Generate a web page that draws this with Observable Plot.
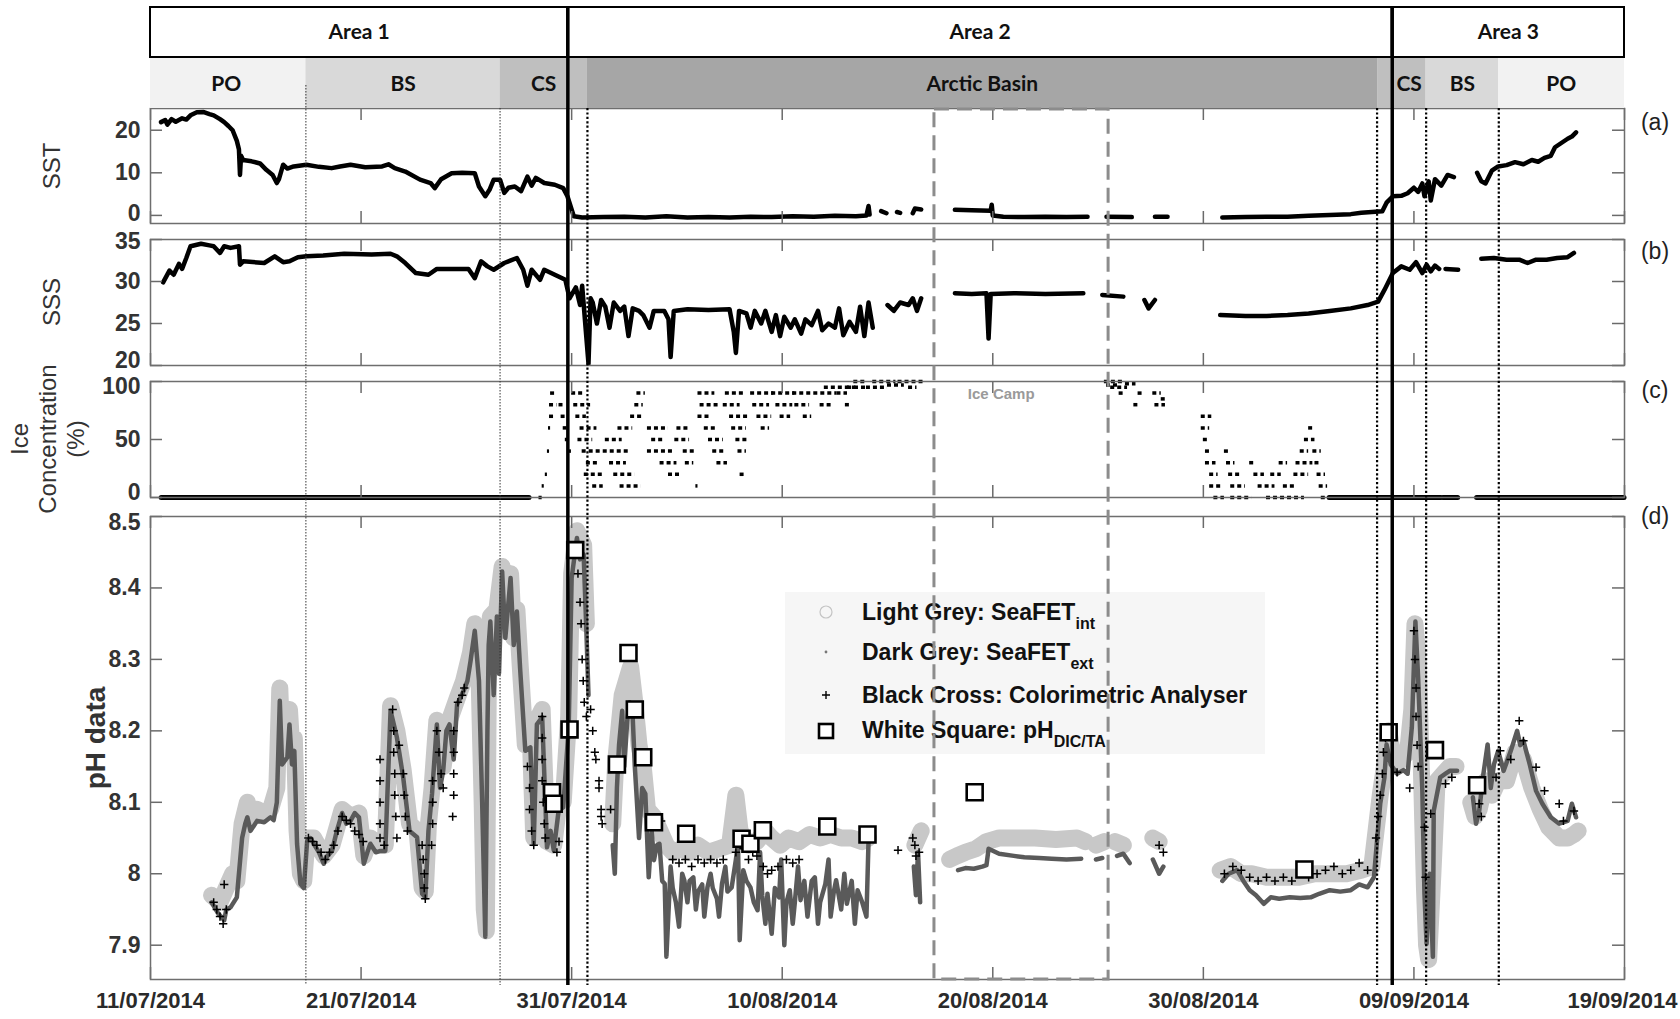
<!DOCTYPE html>
<html><head><meta charset="utf-8">
<script src="https://cdn.jsdelivr.net/npm/d3@7"></script>
<script src="https://cdn.jsdelivr.net/npm/@observablehq/plot@0.6"></script>
<style>
html,body{margin:0;padding:0;background:#fff;}
#fig{position:relative;width:1680px;height:1019px;overflow:hidden;font-family:"Liberation Sans",Arial,sans-serif;background:#fff;}
#fig svg.plotsvg{position:absolute;left:0;overflow:visible;}
.lab{position:absolute;white-space:nowrap;color:#333;line-height:1;}
.rot{transform:translate(-50%,-50%) rotate(-90deg);}
#legend{position:absolute;left:785px;top:592px;width:480px;height:162px;background:#f6f6f6;}
#legend .row{position:absolute;left:77px;font-weight:bold;font-size:23px;color:#111;white-space:nowrap;line-height:1;}
#legend sub{font-size:16px;vertical-align:-9px;line-height:0;}
#legend svg{position:absolute;left:29px;}
</style></head><body><div id="fig"></div>
<script>
// ---------- DATA (day offsets from 11/07/2014) ----------
const xTickDays = [0, 10, 20, 30, 40, 50, 60, 70];
const xTickLabels = ["11/07/2014","21/07/2014","31/07/2014","10/08/2014","20/08/2014","30/08/2014","09/09/2014","19/09/2014"];

const areaNames = ["Area 1", "Area 2", "Area 3"];
const areaStart = [0, 19.82, 58.97];
const areaEnd   = [19.82, 58.97, 70];

const bandNames = ["PO", "BS", "CS", "Arctic Basin", "CS", "BS", "PO"];
const bandStart = [0, 7.38, 16.6, 20.75, 58.3, 60.58, 64.03];
const bandEnd   = [7.38, 16.6, 20.75, 58.3, 60.58, 64.03, 70];
const bandLabelDay = [3.6, 12.0, 18.67, 39.5, 59.77, 62.3, 67.0];
const bandColor = ["#f2f2f2", "#d9d9d9", "#bfbfbf", "#a6a6a6", "#bfbfbf", "#d9d9d9", "#f2f2f2"];

const thinDotDays = [7.38, 16.6];
const boldDotDays = [20.75, 58.25, 60.58, 64.03];
const iceCamp = [37.23, 45.5];

const sstTicks = [0, 10, 20];
const sssTicks = [20, 25, 30, 35];
const iceTicks = [0, 50, 100];
const phTicks = [7.9, 8.0, 8.1, 8.2, 8.3, 8.4, 8.5];
const phTickLabels = ["7.9", "8", "8.1", "8.2", "8.3", "8.4", "8.5"];

const sst = [
[0.5,21.9],[0.7,22.4],[0.8,21.3],[1.0,22.6],[1.2,22.0],[1.5,22.8],[1.7,22.5],[1.9,23.5],[2.2,24.2],[2.5,24.3],[2.8,23.8],[3.0,23.5],[3.3,22.6],[3.5,21.9],[3.7,21.0],[3.9,20],[4.1,17.5],[4.2,15.5],[4.25,9.5],[4.3,14],[4.4,13],[4.8,12.7],[5.2,12.2],[5.5,10.7],[5.8,9.5],[6.0,7.6],[6.1,8.5],[6.3,11.9],[6.5,11.0],[6.8,11.5],[7.4,11.9],[8.0,11.4],[8.6,11.1],[9.0,11.5],[9.5,11.9],[10.2,11.3],[11.0,11.5],[11.3,12.0],[11.6,11.1],[12.1,10.3],[12.8,8.4],[13.3,7.6],[13.5,6.4],[13.8,8.5],[14.3,9.9],[14.8,10.0],[15.4,9.9],[15.6,6.8],[15.9,4.5],[16.1,6.0],[16.3,8.4],[16.6,8.4],[16.8,5.3],[17.0,6.5],[17.3,6.8],[17.6,5.7],[17.9,9.1],[18.1,7.0],[18.3,8.8],[18.7,7.6],[19.2,7.2],[19.6,6.4],[19.8,4.5],[20.1,-0.2],[20.5,-0.5],
[21.5,-0.4],[22.5,-0.3],[23.5,-0.5],[24.5,-0.2],[25.5,-0.5],[26.5,-0.4],[27.5,-0.5],[28.5,-0.3],[29.5,-0.4],[30.5,-0.2],[31.5,-0.3],[32.5,-0.1],[33.5,-0.2],[34.0,0],[34.1,2.2],[34.15,0.2],[34.2,null],
[34.7,1.0],[34.95,0.5],[35.0,null],[35.45,0.8],[35.6,0.6],[35.7,null],[36.2,0.5],[36.3,1.6],[36.6,1.4],[36.7,null],
[38.2,1.3],[39.0,1.2],[39.9,1.1],[39.95,2.5],[40.0,0.0],[40.5,-0.3],[41.5,-0.4],[42.5,-0.3],[43.5,-0.4],[44.5,-0.3],[44.6,null],
[45.4,-0.3],[46.6,-0.4],[46.7,null],[47.7,-0.3],[48.3,-0.3],[48.4,null],
[50.9,-0.5],[52,-0.4],[53,-0.3],[54,-0.3],[55,-0.1],[56,0.1],[57,0.3],[57.5,0.6],[58.0,0.8],[58.5,1.0],[58.7,3.0],[59.0,4.5],[59.4,4.6],[59.7,5.2],[60.0,6.5],[60.2,5.5],[60.4,7.5],[60.5,4.5],[60.7,8.0],[60.8,3.5],[61.0,8.5],[61.3,7.0],[61.6,9.5],[61.9,9.0],[62.0,null],
[63.0,10.0],[63.2,8.0],[63.4,7.5],[63.7,10.5],[64.0,11.5],[64.4,11.8],[64.8,12.5],[65.2,12.0],[65.6,13.0],[65.9,12.6],[66.2,13.5],[66.5,14.0],[66.7,16.0],[67.0,17.0],[67.3,18.0],[67.5,18.5],[67.7,19.5]
];

const sss = [
[0.6,29.9],[0.9,31.3],[1.1,30.8],[1.35,32.1],[1.5,31.5],[1.7,32.8],[1.9,34.2],[2.4,34.5],[2.8,34.3],[3.0,34.2],[3.3,33.4],[3.5,34.2],[3.8,34.0],[4.2,34.2],[4.25,32.0],[4.4,32.4],[5.4,32.2],[5.9,33.0],[6.3,32.3],[6.6,32.4],[7.0,32.9],[7.4,33.0],[8.2,33.1],[9.2,33.3],[10.5,33.2],[11.4,33.3],[11.7,33.0],[12.1,32.2],[12.6,31.0],[13.2,30.8],[13.6,31.5],[14.6,31.5],[15.1,31.5],[15.4,30.4],[15.7,32.4],[16.0,31.8],[16.3,31.4],[16.8,32.2],[17.4,32.8],[17.7,31.4],[17.9,29.5],[18.1,31.4],[18.5,30.2],[18.7,31.4],[19.2,30.8],[19.7,30.2],[19.9,28.0],[20.2,29.3],[20.4,27.2],[20.5,29.5],[20.7,23.3],[20.8,20.2],[20.9,28.0],
[21.0,27.5],[21.2,25.0],[21.4,27.8],[21.6,27.0],[21.8,24.5],[22.0,27.5],[22.3,26.5],[22.5,27.0],[22.7,23.5],[22.9,26.8],[23.2,26.5],[23.4,26.0],[23.7,24.5],[23.9,26.5],[24.4,26.5],[24.6,25.5],[24.7,21.0],[24.85,26.5],[25.5,26.7],[26.5,26.6],[27.5,26.7],[27.7,24.0],[27.8,21.5],[27.95,26.5],[28.3,26.2],[28.5,24.5],[28.7,26.5],[29.0,25.0],[29.2,26.5],[29.5,24.0],[29.7,26.0],[29.9,23.5],[30.1,25.8],[30.4,24.5],[30.6,25.5],[30.9,23.8],[31.1,25.5],[31.4,24.8],[31.7,26.5],[31.9,24.2],[32.2,25.0],[32.5,24.5],[32.7,26.8],[32.9,23.6],[33.2,25.2],[33.5,24.0],[33.7,27.0],[33.9,23.5],[34.1,27.5],[34.3,24.5],[34.5,null],
[35.0,27.2],[35.3,26.5],[35.6,27.5],[36.0,27.2],[36.2,28.0],[36.4,26.5],[36.6,28.0],[36.7,null],
[38.2,28.6],[39.0,28.5],[39.7,28.6],[39.8,23.2],[39.9,28.5],[41.0,28.6],[42.5,28.5],[44.3,28.6],[44.4,null],
[45.2,28.4],[46.2,28.2],[46.3,null],[47.2,27.8],[47.4,26.8],[47.7,27.8],[47.8,null],
[50.8,26.0],[52,25.9],[53,25.9],[54,26.0],[55,26.2],[56,26.5],[57,26.8],[57.8,27.2],[58.3,27.6],[58.6,29],[59.0,31.0],[59.4,31.8],[59.8,31.4],[60.1,32.3],[60.4,31.0],[60.6,32.0],[60.8,31.2],[61.0,31.9],[61.2,31.5],[61.3,null],[61.5,31.5],[62.1,31.4],[62.2,null],
[63.2,32.7],[63.8,32.8],[64.4,32.6],[65.0,32.6],[65.4,32.2],[65.8,32.6],[66.3,32.6],[66.8,32.8],[67.3,32.9],[67.6,33.4]
];

// ice concentration: [start day, end day, level]
const iceZero = [[0.53,18.0,0],[56.0,61.3,0],[61.4,62.1,0],[63.0,70,0]];
const iceDots = [
[18.45,18.6,0],[18.6,18.7,10],[18.75,18.85,20],[18.85,18.95,40],[18.9,19.0,60],[18.95,19.15,70],[18.95,19.3,80],[19.0,19.25,90],
[19.4,19.6,80],[19.5,19.7,70],[19.6,19.8,60],[19.7,19.9,50],[19.8,20.0,40],
[20.0,20.6,90],[20.1,20.9,80],[20.2,20.7,70],[20.4,21.2,60],[20.3,21.0,50],[20.5,21.4,40],[20.7,21.3,30],[20.6,21.5,20],[21.0,21.5,10],
[21.6,22.4,50],[21.5,22.8,40],[21.8,22.6,30],[22.0,23.0,20],[22.3,23.3,10],[22.2,22.9,60],[22.8,23.4,70],[23.0,23.4,80],[23.1,23.5,90],
[23.6,24.6,60],[23.8,24.4,50],[23.6,24.8,40],[24.2,25.0,30],[24.6,25.2,20],[24.9,25.6,50],[25.0,25.6,60],[25.3,25.9,40],[25.4,25.8,30],[25.9,26.0,10],
[26.0,26.8,90],[26.1,27.0,80],[26.0,26.6,70],[26.3,26.9,60],[26.5,27.2,50],[26.7,27.3,40],[26.9,27.4,30],[27.3,28.2,90],[27.2,28.0,80],[27.5,28.4,70],[27.6,28.3,60],[27.8,28.4,50],[27.9,28.3,40],[28.0,28.2,20],
[28.5,29.6,90],[28.6,29.4,80],[28.8,29.5,70],[29.0,29.4,60],[29.5,30.6,90],[29.7,30.5,80],[29.9,30.4,70],[30.5,31.5,90],[30.6,31.3,80],[31.0,31.4,70],
[31.5,32.6,90],[31.8,32.4,80],[32.0,33.5,95],[32.6,33.1,90],[33.1,34.0,95],[33.4,34.0,100],[33.0,33.3,80],
[34.0,35.0,95],[34.3,35.4,100],[35.0,35.8,97],[35.5,36.7,100],[36.0,36.4,95],
[45.3,46.2,100],[45.4,46.0,97],[45.6,46.4,95],[46.0,46.3,90],[46.3,46.8,98],[46.7,47.0,80],[46.9,47.1,90],[47.6,48.0,90],[47.7,48.2,80],[48.0,48.3,85],
[49.9,50.4,70],[49.9,50.3,60],[50.0,50.3,50],[50.1,50.4,40],[50.1,50.6,30],[50.3,50.7,20],[50.3,50.9,10],[50.5,51.0,0],
[51.0,51.3,40],[51.1,51.5,30],[51.2,51.8,20],[51.3,52.0,10],[51.3,52.3,0],
[52.2,52.5,30],[52.4,52.9,20],[52.6,53.4,10],[53.0,54.8,0],[53.2,53.7,20],[53.6,54.0,30],[53.8,54.4,10],[54.3,55.0,20],[54.4,55.2,30],[54.6,55.0,40],[54.8,55.3,50],[55.0,55.3,60],[55.2,55.6,40],[55.3,55.6,30],[55.4,55.8,20],[55.5,55.9,10],[55.6,56.2,0]
];

// pH: SeaFET external (dark grey)
const phExt = [
[2.9,7.96],[3.0,7.955],[3.2,7.945],[3.5,7.935],[3.6,7.95],[3.8,7.953],[4.1,7.967],[4.35,8.05],[4.5,8.07],[4.6,8.079],[4.75,8.06],[5.06,8.074],[5.4,8.072],[5.7,8.079],[5.85,8.075],[6.0,8.10],[6.14,8.242],[6.25,8.153],[6.5,8.163],[6.6,8.209],[6.72,8.153],[6.83,8.172],[6.96,8.042],[7.12,7.986],[7.28,7.98],
[7.44,8.046],[7.6,8.05],[7.75,8.042],[8.0,8.03],[8.23,8.014],[8.4,8.025],[8.62,8.032],[8.85,8.06],[9.1,8.085],[9.3,8.07],[9.5,8.074],[9.7,8.085],[9.9,8.079],[10.13,8.014],[10.3,8.03],[10.44,8.042],[10.7,8.03],[10.92,8.032],[11.15,8.032],[11.4,8.228],[11.7,8.191],[12.0,8.135],[12.3,8.06],[12.66,8.051],[12.9,7.972],[13.05,7.967],[13.2,8.06],[13.37,8.112],[13.6,8.209],[13.75,8.12],[13.9,8.144],[14.05,8.2],[14.2,8.209],[14.4,8.16],[14.56,8.237],[14.87,8.256],[15.05,8.27],[15.2,8.298],[15.4,8.34],[15.6,8.27],[15.75,8.1],[15.9,7.912],[16.0,8.2],[16.06,8.32],[16.14,8.353],[16.3,8.25],[16.45,8.36],[16.55,8.28],[16.7,8.423],[16.85,8.33],[17.0,8.38],[17.1,8.414],[17.25,8.32],[17.4,8.367],[17.56,8.284],[17.8,8.172],[18.04,8.177],[18.2,8.042],[18.35,8.209],[18.6,8.219],[18.83,8.037],[19.0,8.06],[19.15,8.033],[19.38,8.088],[19.6,8.093],[19.86,8.205],[20.0,8.414],[20.25,8.47],[20.4,8.44],[20.57,8.447],[20.7,8.34],[20.8,8.25],[20.85,null],
[21.95,8.04],[22.05,8.0],[22.15,8.12],[22.25,8.18],[22.4,8.228],[22.5,8.15],[22.64,8.214],[22.75,8.24],[22.9,8.219],[23.0,8.15],[23.07,8.116],[23.2,8.05],[23.35,8.12],[23.5,8.112],[23.66,7.995],[23.8,8.06],[23.91,8.019],[24.05,8.04],[24.17,8.042],[24.3,7.99],[24.42,7.986],[24.5,7.884],[24.59,7.94],[24.7,8.01],[24.8,7.98],[24.95,7.96],[25.1,7.926],[25.25,8.0],[25.35,7.991],[25.5,7.96],[25.6,7.99],[25.78,7.995],[25.9,7.95],[26.0,7.975],[26.2,7.985],[26.3,7.94],[26.45,7.981],[26.6,8.0],[26.7,7.98],[26.9,7.965],[27.0,7.94],[27.14,7.986],[27.3,8.01],[27.4,7.975],[27.6,7.981],[27.8,8.02],[27.9,8.042],[27.98,7.907],[28.15,8.005],[28.3,7.99],[28.49,7.981],[28.65,7.96],[28.83,7.949],[28.95,8.03],[29.05,7.97],[29.2,7.93],[29.3,7.972],[29.5,7.916],[29.65,7.98],[29.85,7.967],[29.95,8.02],[30.1,7.9],[30.2,7.96],[30.36,7.977],[30.5,7.93],[30.6,7.96],[30.75,8.01],[30.87,7.963],[31.05,7.99],[31.2,7.94],[31.4,7.99],[31.55,7.995],[31.7,7.93],[31.8,7.96],[32.05,7.986],[32.2,8.02],[32.3,7.94],[32.45,7.975],[32.56,7.991],[32.8,7.95],[32.95,8.0],[33.07,7.958],[33.3,7.99],[33.45,7.93],[33.58,7.977],[33.8,7.96],[34.0,7.94],[34.1,8.047],[34.15,null],
[36.25,8.01],[36.35,7.97],[36.45,8.03],[36.55,7.96],[36.6,null],
[38.35,8.005],[38.7,8.008],[39.1,8.007],[39.5,8.01],[39.7,8.012],[39.8,8.035],[40.3,8.028],[41.0,8.025],[41.5,8.023],[42.2,8.022],[42.8,8.021],[43.5,8.02],[44.2,8.021],[44.3,null],
[44.9,8.02],[45.2,8.022],[45.3,null],[45.9,8.025],[46.2,8.028],[46.5,8.015],[46.6,null],
[47.6,8.02],[47.9,8.0],[48.1,8.01],[48.2,null],
[50.9,7.99],[51.2,8.0],[51.6,8.005],[51.9,7.99],[52.2,7.977],[52.5,7.97],[52.87,7.958],[53.2,7.967],[53.6,7.965],[54.1,7.967],[54.6,7.966],[55.1,7.967],[55.5,7.972],[56.0,7.977],[56.5,7.975],[57.0,7.977],[57.4,7.985],[57.8,7.981],[58.1,7.995],[58.25,8.047],[58.4,8.098],[58.6,8.135],[58.7,8.181],[58.9,8.153],[59.2,8.14],[59.5,8.145],[59.7,8.14],[59.9,8.205],[60.07,8.353],[60.2,8.274],[60.4,8.116],[60.5,7.972],[60.6,7.902],[60.75,8.0],[60.9,7.884],[60.94,8.088],[61.25,8.135],[61.5,8.14],[61.7,8.144],[62.05,8.144],[62.1,null],
[62.8,8.107],[62.95,8.07],[63.1,8.088],[63.3,8.14],[63.5,8.181],[63.65,8.12],[63.8,8.153],[64.0,8.172],[64.26,8.144],[64.6,8.172],[64.9,8.2],[65.05,8.18],[65.2,8.186],[65.5,8.153],[65.8,8.116],[66.1,8.098],[66.5,8.079],[66.9,8.07],[67.3,8.074],[67.5,8.098],[67.7,8.079]
];

// pH: SeaFET internal (light grey)
const phInt = [
[2.9,7.97],[3.3,7.96],[3.6,7.98],[3.9,8.0],[4.1,7.99],[4.35,8.07],[4.6,8.1],[4.75,8.08],[5.06,8.09],[5.4,8.085],[5.7,8.09],[6.0,8.12],[6.14,8.26],[6.25,8.17],[6.5,8.18],[6.6,8.23],[6.72,8.17],[6.83,8.19],[6.96,8.06],[7.12,8.0],[7.28,7.99],
[7.44,8.05],[7.75,8.05],[8.23,8.025],[8.62,8.04],[9.1,8.09],[9.5,8.08],[9.9,8.085],[10.13,8.025],[10.44,8.05],[10.92,8.04],[11.15,8.04],[11.4,8.235],[11.7,8.2],[12.0,8.145],[12.3,8.07],[12.66,8.06],[12.9,7.98],[13.05,7.975],[13.2,8.07],[13.37,8.12],[13.6,8.215],[13.9,8.15],[14.2,8.215],[14.56,8.245],[14.87,8.27],[15.2,8.31],[15.4,8.35],[15.6,8.28],[15.75,8.1],[15.85,7.95],[15.95,7.92],[16.06,8.33],[16.14,8.36],[16.45,8.37],[16.7,8.43],[16.85,8.34],[17.1,8.42],[17.25,8.33],[17.4,8.37],[17.56,8.29],[17.8,8.18],[18.04,8.19],[18.2,8.05],[18.35,8.215],[18.6,8.23],[18.83,8.045],[19.15,8.04],[19.38,8.095],[19.6,8.1],[19.86,8.22],[20.0,8.42],[20.25,8.48],[20.57,8.46],[20.7,8.35],[20.75,null],
[21.95,8.07],[22.1,8.16],[22.4,8.25],[22.6,8.27],[22.8,8.29],[23.0,8.24],[23.2,8.18],[23.4,8.15],[23.6,8.09],[23.9,8.08],[24.2,8.06],[24.5,8.04],[24.8,8.03],[25.2,8.035],[25.6,8.03],[26.0,8.04],[26.5,8.03],[27.0,8.035],[27.5,8.04],[27.8,8.11],[28.0,8.06],[28.4,8.04],[28.8,8.045],[29.2,8.06],[29.5,8.05],[29.9,8.04],[30.3,8.05],[30.8,8.045],[31.3,8.055],[31.8,8.05],[32.3,8.055],[32.8,8.05],[33.3,8.05],[33.8,8.045],[34.1,8.05],[34.15,null],
[36.3,8.04],[36.6,8.06],[36.65,null],
[37.95,8.02],[38.3,8.025],[38.7,8.03],[39.2,8.035],[39.7,8.045],[40.3,8.05],[41.0,8.05],[42.0,8.05],[43.0,8.048],[44.0,8.05],[44.4,8.045],[44.45,null],
[44.9,8.04],[45.3,8.045],[45.5,null],[45.8,8.045],[46.2,8.04],[46.4,null],
[47.6,8.05],[47.9,8.045],[48.0,null],
[50.8,8.005],[51.3,8.01],[51.8,8.0],[52.3,8.0],[53.0,7.995],[53.8,7.995],[54.5,7.995],[55.3,8.0],[56.0,8.0],[56.8,8.0],[57.5,8.005],[58.0,8.01],[58.2,8.06],[58.4,8.11],[58.6,8.15],[58.8,8.2],[59.1,8.15],[59.4,8.16],[59.7,8.17],[59.9,8.23],[60.05,8.35],[60.2,8.3],[60.35,8.15],[60.5,7.98],[60.6,7.9],[60.7,7.88],[60.9,8.0],[61.1,8.13],[61.4,8.14],[61.7,8.15],[62.0,8.15],[62.1,null],
[62.7,8.1],[62.9,8.08],[63.1,8.09],[63.4,8.13],[63.7,8.11],[64.0,8.13],[64.4,8.13],[64.8,8.17],[65.2,8.16],[65.6,8.12],[66.0,8.09],[66.4,8.065],[66.9,8.05],[67.3,8.05],[67.6,8.055],[67.8,8.06]
];

// pH: colorimetric analyser (black cross)
const phColor = [
[3.0,7.96],[3.15,7.95],[3.3,7.94],[3.45,7.93],[3.5,7.985],[3.6,7.95],
[7.5,8.05],[7.7,8.045],[7.9,8.04],[8.1,8.03],[8.3,8.02],[8.5,8.03],[8.7,8.04],[8.9,8.06],[9.1,8.08],[9.3,8.075],[9.5,8.07],[9.7,8.06],[9.9,8.055],[10.1,8.045],
[10.9,8.16],[10.9,8.13],[10.9,8.10],[10.9,8.07],[10.9,8.05],[11.1,8.04],[11.5,8.23],[11.55,8.2],[11.55,8.17],[11.6,8.14],[11.6,8.11],[11.65,8.08],[11.7,8.05],[11.8,8.18],[12.0,8.14],[12.05,8.11],[12.1,8.08],[12.2,8.06],
[12.9,8.04],[12.95,8.02],[13.0,8.0],[13.0,7.98],[13.05,7.965],[13.4,8.13],[13.4,8.1],[13.4,8.07],[13.35,8.04],[13.6,8.2],[13.7,8.17],[13.8,8.14],[13.9,8.12],[14.4,8.2],[14.4,8.17],[14.4,8.14],[14.4,8.11],[14.35,8.08],[14.6,8.24],[14.8,8.25],[14.9,8.26],
[17.9,8.15],[18.0,8.12],[18.0,8.09],[18.1,8.06],[18.2,8.04],[18.6,8.22],[18.6,8.19],[18.6,8.16],[18.6,8.13],[18.65,8.1],[18.7,8.07],[18.75,8.05],[19.3,8.03],[19.4,8.045],
[20.3,8.42],[20.4,8.38],[20.45,8.35],[20.5,8.3],[20.55,8.27],[20.6,8.24],[20.7,8.22],[20.9,8.23],[21.0,8.2],[21.1,8.17],[21.15,8.16],[21.3,8.13],[21.3,8.12],[21.4,8.09],[21.4,8.08],[21.45,8.07],[21.85,8.09],
[24.25,8.074],[24.8,8.02],[25.1,8.015],[25.4,8.02],[25.7,8.01],[26.0,8.02],[26.3,8.015],[26.6,8.02],[26.9,8.015],[27.2,8.02],[27.8,8.03],[28.0,8.04],[28.2,8.035],[28.4,8.02],[28.6,8.03],[28.8,8.025],[29.1,8.01],[29.3,8.0],[29.5,8.005],[29.8,8.01],[30.2,8.02],[30.5,8.015],[30.8,8.02],
[35.5,8.033],[36.2,8.05],[36.3,8.04],[36.35,8.025],[36.5,8.03],
[48.1,8.03],[47.9,8.04],
[51.0,8.0],[51.4,8.01],[51.8,8.005],[52.2,7.995],[52.6,7.99],[53.0,7.995],[53.4,7.99],[53.8,7.995],[54.2,7.99],[54.6,8.0],[55.0,7.995],[55.4,8.0],[55.8,8.005],[56.2,8.01],[56.6,8.0],[57.0,8.005],[57.4,8.015],[57.8,8.005],
[58.2,8.05],[58.3,8.08],[58.4,8.11],[58.5,8.14],[58.55,8.17],[58.65,8.19],[59.2,8.142],[59.8,8.12],[60.0,8.34],[60.05,8.3],[60.1,8.26],[60.1,8.22],[60.15,8.18],[60.2,8.15],[60.5,8.065],[60.55,7.995],[60.8,8.084],[61.5,8.126],[61.8,8.135],
[63.1,8.098],[63.2,8.08],[63.9,8.135],[64.1,8.172],[64.6,8.16],[65.0,8.214],[65.2,8.186],[65.8,8.149],[66.2,8.116],[66.9,8.098],[67.1,8.074],[67.6,8.088]
];

// pH from DIC/TA (white square)
const phDic = [
[19.07,8.114],[19.15,8.098],[19.9,8.202],[20.17,8.453],[22.15,8.153],[22.7,8.309],[23.0,8.23],[23.4,8.163],[23.91,8.072],[25.44,8.056],[28.07,8.049],[28.49,8.042],[29.08,8.061],[32.14,8.066],[34.05,8.055],[39.14,8.114],[54.8,8.006],[58.8,8.198],[61.0,8.173],[63.0,8.124]
];

// ---------- DRAWING ----------
const START = Date.UTC(2014, 6, 11);
const toDate = d => new Date(START + d * 864e5);
const xDomain = [toDate(0), toDate(70)];
const W = 1680, ML = 150, MR = 56;
const fig = document.getElementById("fig");
const baseStyle = {fontFamily: "Liberation Sans, Arial, sans-serif", background: "transparent", overflow: "visible"};

// nudge: pixel offsets (up) for tick labels that would touch the neighbouring panel's labels
function panel(top, bottom, yDomain, yTicks, yLabels, nudge, marks, mb, withX) {
  const mt = 20;
  const h = bottom - top;
  const span = yDomain[1] - yDomain[0];
  const ky = 12 / h * span;
  const kx = 12 / (W - ML - MR) * 70;
  const tickStyle = {stroke: "#6a6a6a", strokeWidth: 1.5};
  const extra = [];
  if (withX) {
    const xl = xTickDays.map((d, i) => ({d, s: xTickLabels[i]}));
    const xStyle = {frameAnchor: "bottom", dy: 28, text: "s", fontSize: 22, fontWeight: "bold", fill: "#2a2a2a"};
    extra.push(Plot.text(xl.slice(0, -1), {x: o => toDate(o.d), ...xStyle}));
    extra.push(Plot.text(xl.slice(-1), {x: o => toDate(o.d), textAnchor: "end", dx: 53, ...xStyle}));
  }
  const svg = Plot.plot({
    width: W, height: h + mt + mb,
    marginLeft: ML, marginRight: MR, marginTop: mt, marginBottom: mb,
    x: {type: "utc", domain: xDomain, axis: null},
    y: {domain: yDomain, axis: null},
    style: baseStyle,
    marks: [
      ...marks,
      Plot.ruleX(xTickDays, {x: d => toDate(d), y1: () => yDomain[0], y2: () => yDomain[0] + ky, ...tickStyle}),
      Plot.ruleX(xTickDays, {x: d => toDate(d), y1: () => yDomain[1], y2: () => yDomain[1] - ky, ...tickStyle}),
      Plot.ruleY(yTicks, {y: d => d, x1: () => toDate(0), x2: () => toDate(kx), ...tickStyle}),
      Plot.ruleY(yTicks, {y: d => d, x1: () => toDate(70), x2: () => toDate(70 - kx), ...tickStyle}),
      Plot.frame({stroke: "#6e6e6e", strokeWidth: 1.5}),
      Plot.text(yTicks.map((v, i) => ({v: v + nudge[i] * span / h, s: yLabels[i]})), {
        y: "v", text: "s", frameAnchor: "left", dx: -10, textAnchor: "end",
        fontSize: 23, fontWeight: "bold", fill: "#333"
      }),
      ...extra
    ]
  });
  svg.classList.add("plotsvg");
  svg.style.top = (top - mt) + "px";
  fig.appendChild(svg);
}

const X = d => toDate(d[0]);
const Y = d => d[1];

// (a) SST
panel(108, 223, [-1.9, 25.1], sstTicks, sstTicks.map(String), [2, 0, 0], [
  Plot.line(sst, {x: X, y: Y, stroke: "#000", strokeWidth: 4.5, strokeLinejoin: "round", strokeLinecap: "round"})
], 20, false);

// (b) SSS
panel(239, 365, [20, 35], sssTicks, sssTicks.map(String), [5, 0, 0, -2], [
  Plot.line(sss, {x: X, y: Y, stroke: "#000", strokeWidth: 4.5, strokeLinejoin: "round", strokeLinecap: "round"})
], 20, false);

// (c) Ice concentration
panel(381, 497, [0, 100], iceTicks, iceTicks.map(String), [5, 0, -5], [
  Plot.ruleY(iceZero, {y: d => d[2], x1: d => toDate(d[0]), x2: d => toDate(d[1]), stroke: "#000", strokeWidth: 5, strokeLinecap: "round"}),
  Plot.ruleY(iceDots, {y: d => d[2], x1: d => toDate(d[0]), x2: d => toDate(d[1]), stroke: "#000", strokeWidth: 3.5, strokeDasharray: "4,3"})
], 20, false);

// (d) pH
panel(516, 979, [7.852, 8.5], phTicks, phTickLabels, [0, 0, 0, 0, 0, 0, -6], [
  Plot.line(phInt, {x: X, y: Y, stroke: "#c8c8c8", strokeWidth: 17, strokeLinejoin: "round", strokeLinecap: "round"}),
  Plot.line(phExt, {x: X, y: Y, stroke: "#5a5a5a", strokeWidth: 4.5, strokeLinejoin: "round", strokeLinecap: "round"}),
  Plot.dot(phColor, {x: X, y: Y, symbol: "plus", r: 2.8, stroke: "#000", strokeWidth: 1.5}),
  Plot.dot(phDic, {x: X, y: Y, symbol: "square", r: 9, fill: "#fff", stroke: "#000", strokeWidth: 2.6})
], 40, true);

// legend
const legend = document.createElement("div");
legend.id = "legend";
legend.innerHTML = `
<svg width="24" height="24" style="top:8px"><circle cx="12" cy="12" r="6" fill="none" stroke="#c4c4c4" stroke-width="1.2"/></svg>
<div class="row" style="top:9px">Light Grey: SeaFET<sub>int</sub></div>
<svg width="24" height="24" style="top:48px"><circle cx="12" cy="12" r="1.4" fill="#777"/></svg>
<div class="row" style="top:49px">Dark Grey: SeaFET<sub>ext</sub></div>
<svg width="24" height="24" style="top:91px"><path d="M12 8V16M8 12H16" stroke="#000" stroke-width="1.4"/></svg>
<div class="row" style="top:92px">Black Cross: Colorimetric Analyser</div>
<svg width="24" height="24" style="top:127px"><rect x="5" y="5" width="14" height="14" fill="#fff" stroke="#000" stroke-width="2.6"/></svg>
<div class="row" style="top:127px">White Square: pH<sub>DIC/TA</sub></div>`;
fig.appendChild(legend);

// overlay: header bands, area boundaries, dotted lines, ice camp box
const areas = areaNames.map((n, i) => ({n, s: areaStart[i], e: areaEnd[i]}));
const bands = bandNames.map((n, i) => ({n, s: bandStart[i], e: bandEnd[i], l: bandLabelDay[i], c: bandColor[i]}));
const ov = Plot.plot({
  width: W, height: 1019, marginLeft: ML, marginRight: MR, marginTop: 0, marginBottom: 0,
  x: {type: "utc", domain: xDomain, axis: null},
  y: {domain: [0, 1019], range: [0, 1019], axis: null},
  style: baseStyle,
  marks: [
    Plot.rect(bands, {x1: d => toDate(d.s), x2: d => toDate(d.e), y1: () => 57, y2: () => 108, fill: d => d.c}),
    Plot.rect(areas, {x1: d => toDate(d.s), x2: d => toDate(d.e), y1: () => 7, y2: () => 57, fill: "#fff", stroke: "#000", strokeWidth: 2}),
    Plot.text(areas, {x: d => toDate((d.s + d.e) / 2), y: () => 32, text: "n", fontFamily: "Lato, sans-serif", fontWeight: "bold", fontSize: 21, fill: "#111"}),
    Plot.text(bands, {x: d => toDate(d.l), y: () => 84, text: "n", fontFamily: "Lato, sans-serif", fontWeight: "bold", fontSize: 21, fill: "#111"}),
    Plot.ruleX(thinDotDays, {x: d => toDate(d), y1: (d, i) => i === 0 ? 85 : 108, y2: () => 985, stroke: "#333", strokeWidth: 1, strokeDasharray: "1.5,1.5"}),
    Plot.ruleX(boldDotDays, {x: d => toDate(d), y1: () => 108, y2: () => 985, stroke: "#000", strokeWidth: 2.2, strokeDasharray: "2.2,2.2"}),
    Plot.rect([iceCamp], {x1: d => toDate(d[0]), x2: d => toDate(d[1]), y1: () => 109, y2: () => 979, fill: "none", stroke: "#8c8c8c", strokeWidth: 3, strokeDasharray: "15,8"}),
    Plot.text(["Ice Camp"], {x: () => toDate(40.4), y: () => 394, text: d => d, fontWeight: "bold", fontSize: 15, fill: "#9a9a9a"}),
    Plot.ruleX(areaStart.slice(1), {x: d => toDate(d), y1: () => 7, y2: () => 985, stroke: "#000", strokeWidth: 3.5})
  ]
});
ov.classList.add("plotsvg");
ov.style.top = "0px";
ov.style.pointerEvents = "none";
fig.appendChild(ov);

// axis titles and panel tags
function label(text, cx, cy, css, rotate) {
  const el = document.createElement("div");
  el.className = "lab" + (rotate ? " rot" : "");
  el.textContent = text;
  el.style.left = cx + "px";
  el.style.top = cy + "px";
  if (!rotate) el.style.transform = "translate(-50%,-50%)";
  Object.assign(el.style, css);
  fig.appendChild(el);
}
const t = {fontSize: "24px"};
label("SST", 52, 166, t, true);
label("SSS", 52, 302, t, true);
label("Ice", 20, 439, t, true);
label("Concentration", 48, 439, t, true);
label("(%)", 76, 439, t, true);
label("pH data", 96, 738, {fontSize: "28px", fontWeight: "bold"}, true);
const tg = {fontSize: "23px", color: "#222"};
label("(a)", 1655, 122, tg, false);
label("(b)", 1655, 251, tg, false);
label("(c)", 1655, 390, tg, false);
label("(d)", 1655, 516, tg, false);
</script></body></html>
